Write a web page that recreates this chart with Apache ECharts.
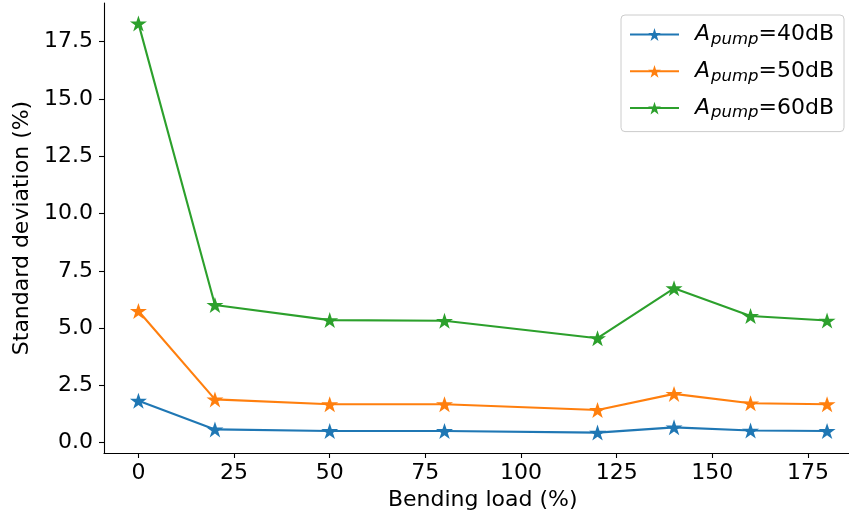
<!DOCTYPE html>
<html>
<head>
<meta charset="utf-8">
<script src="https://cdn.jsdelivr.net/npm/echarts@6/dist/echarts.min.js"></script>
<style>html,body{margin:0;padding:0;background:#fff}#c{width:849px;height:520px}</style>
</head>
<body>
<div id="c"></div>
<script>
const bendingLoad = [0, 20, 50, 80, 120, 140, 160, 180];
const pump40 = [1.83, 0.58, 0.51, 0.51, 0.44, 0.67, 0.53, 0.51];
const pump50 = [5.75, 1.89, 1.68, 1.68, 1.43, 2.13, 1.72, 1.68];
const pump60 = [18.30, 6.01, 5.35, 5.32, 4.56, 6.74, 5.53, 5.33];
const seriesLabels = ['40dB', '50dB', '60dB'];
const seriesColors = ['#1f77b4', '#ff7f0e', '#2ca02c'];
const xTicks = [0, 25, 50, 75, 100, 125, 150, 175];
const yTicks = [0, 2.5, 5, 7.5, 10, 12.5, 15, 17.5];
const xTitle = 'Bending load (%)';
const yTitle = 'Standard deviation (%)';

const STAR = 'path://M0,-100 L22.45,-30.9 L95.1,-30.9 L36.3,11.8 L58.8,80.9 L0,38.2 L-58.8,80.9 L-36.3,11.8 L-95.1,-30.9 L-22.45,-30.9 Z';
const FONT = 'DejaVu Sans';
const values = [pump40, pump50, pump60];

const chart = echarts.init(document.getElementById('c'), null, {renderer: 'canvas'});
const axisCommon = {
  axisLine: {show: true, onZero: false, lineStyle: {color: '#000', width: 1.1}},
  axisTick: {show: true, inside: false, length: 5, lineStyle: {color: '#000', width: 1.1}},
  splitLine: {show: false},
  nameLocation: 'middle',
  nameTextStyle: {fontFamily: FONT, fontSize: 22, color: '#000'}
};
chart.setOption({
  animation: false,
  backgroundColor: '#fff',
  grid: {left: 104, top: 3, width: 757.5, height: 450, containLabel: false, outerBoundsMode: 'none'},
  xAxis: Object.assign({}, axisCommon, {
    type: 'value', min: -9, max: 189,
    name: xTitle, nameGap: 36,
    axisTick: Object.assign({}, axisCommon.axisTick, {customValues: xTicks}),
    axisLabel: {customValues: xTicks, fontFamily: FONT, fontSize: 22, color: '#000', margin: 9}
  }),
  yAxis: Object.assign({}, axisCommon, {
    type: 'value', min: -0.45, max: 19.19,
    name: yTitle, nameGap: 70,
    axisTick: Object.assign({}, axisCommon.axisTick, {customValues: yTicks}),
    axisLabel: {customValues: yTicks, fontFamily: FONT, fontSize: 22, color: '#000', margin: 11,
      formatter: v => Number(v).toFixed(1)}
  }),
  legend: {
    orient: 'vertical', left: 621, top: 15,
    padding: [6, 10, 10, 8],
    itemGap: 9.8, itemWidth: 49, itemHeight: 16,
    backgroundColor: 'rgba(255,255,255,0.8)',
    borderColor: '#cccccc', borderWidth: 1, borderRadius: 4,
    data: seriesLabels,
    formatter: name => '{a|A}{s|pump}{n|=' + name + '}',
    textStyle: {
      fontFamily: FONT, fontSize: 22, color: '#000',
      rich: {
        a: {fontFamily: FONT, fontSize: 22, fontStyle: 'italic', color: '#000', padding: [0, 1, 0, 11], lineHeight: 26},
        s: {fontFamily: FONT, fontSize: 16.5, fontStyle: 'italic', color: '#000', padding: [10, 0, 0, 0], lineHeight: 26},
        n: {fontFamily: FONT, fontSize: 22, color: '#000', lineHeight: 26}
      }
    }
  },
  series: seriesLabels.map((lab, i) => ({
    name: lab,
    type: 'line',
    data: bendingLoad.map((x, j) => [x, values[i][j]]),
    symbol: STAR,
    symbolSize: [17, 16],
    showAllSymbol: true,
    lineStyle: {color: seriesColors[i], width: 2.1},
    itemStyle: {color: seriesColors[i]},
    z: 2 + i
  }))
});
</script>
</body>
</html>
